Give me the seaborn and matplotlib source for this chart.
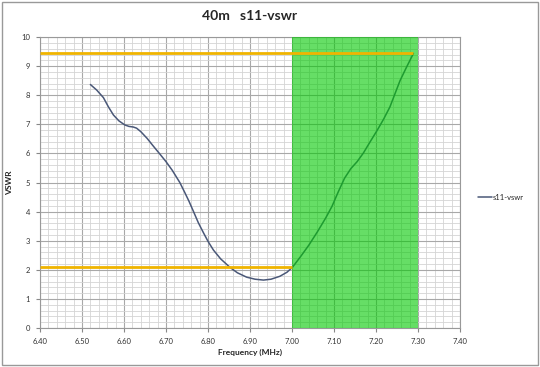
import numpy as np
import pandas as pd
import matplotlib
matplotlib.use('Agg')
import matplotlib.pyplot as plt
import seaborn as sns
from matplotlib.ticker import MultipleLocator

# values
freq = [6.520, 6.535, 6.551, 6.563, 6.575, 6.588, 6.602, 6.612, 6.622, 6.630,
        6.640, 6.655, 6.670, 6.686, 6.700, 6.715, 6.733, 6.745, 6.755, 6.765,
        6.777, 6.789, 6.800, 6.813, 6.830, 6.852, 6.870, 6.892, 6.912, 6.932,
        6.950, 6.971, 6.988, 7.001, 7.020, 7.040, 7.060, 7.080, 7.095, 7.110,
        7.125, 7.140, 7.155, 7.170, 7.185, 7.202, 7.218, 7.233, 7.245, 7.257,
        7.272, 7.289]
vswr = [8.37, 8.18, 7.92, 7.60, 7.32, 7.12, 6.98, 6.93, 6.91, 6.87,
        6.75, 6.52, 6.25, 5.97, 5.72, 5.42, 5.00, 4.65, 4.35, 4.02,
        3.62, 3.28, 2.98, 2.68, 2.38, 2.09, 1.90, 1.75, 1.68, 1.65,
        1.68, 1.78, 1.92, 2.09, 2.45, 2.85, 3.30, 3.78, 4.18, 4.68,
        5.15, 5.48, 5.72, 6.02, 6.38, 6.78, 7.18, 7.60, 8.05, 8.50,
        8.95, 9.44]
band = [7.00, 7.30]
lim_hi = 9.44
lim_lo = 2.09

df = pd.DataFrame({'Frequency (MHz)': freq, 'VSWR': vswr})

sns.set_style('white')
plt.rcParams['font.family'] = ['Lato', 'DejaVu Sans']

fig = plt.figure(figsize=(5.4, 3.67), dpi=100)
ax = fig.add_axes([0.074, 0.106, 0.778, 0.793])

sns.lineplot(data=df, x='Frequency (MHz)', y='VSWR', ax=ax, color='#4a5878',
             lw=1.1, label='s11-vswr', zorder=3, estimator=None, sort=False)

ax.set_xlim(6.40, 7.40)
ax.set_ylim(0, 10)
ax.xaxis.set_major_locator(MultipleLocator(0.1))
ax.xaxis.set_minor_locator(MultipleLocator(0.02))
ax.yaxis.set_major_locator(MultipleLocator(1))
ax.yaxis.set_minor_locator(MultipleLocator(0.2))
ax.grid(which='major', color='#a8a8a8', lw=0.8, zorder=0)
ax.grid(which='minor', color='#d4d4d4', lw=0.6, zorder=0)
ax.set_axisbelow(True)
ax.set_xticks(np.arange(6.40, 7.41, 0.1))
ax.set_xticklabels([f'{v:.2f}' for v in np.arange(6.40, 7.41, 0.1)])
ax.tick_params(axis='both', which='major', labelsize=5.5, length=3, color='#888888',
               labelcolor='#333333', direction='out', bottom=True, left=True, pad=4)
for s in ax.spines.values():
    s.set_color('#999999')
    s.set_linewidth(0.8)

# operating band, drawn over the grid and curve like the original
ax.axvspan(band[0], band[1], color='#00c800', alpha=0.6, lw=0, zorder=4)

# limit lines
ax.plot([6.40, freq[-1]], [lim_hi, lim_hi], color='#f0b400', lw=2, zorder=5,
        solid_capstyle='butt')
ax.plot([6.40, band[0]], [lim_lo, lim_lo], color='#f0b400', lw=2, zorder=5,
        solid_capstyle='butt')

ax.set_xlabel('Frequency (MHz)', fontsize=6, fontweight='bold', labelpad=3)
ax.set_ylabel('VSWR', fontsize=6, fontweight='bold', labelpad=6)
ax.set_title('40m   s11-vswr', fontsize=10, fontweight='bold', pad=12)

leg = ax.legend(loc='center left', bbox_to_anchor=(1.035, 0.45), frameon=False,
                fontsize=5.5, handlelength=1.8, handletextpad=0.2, borderaxespad=0)

fig.patches.append(plt.Rectangle((0.003, 0.005), 0.994, 0.99, transform=fig.transFigure,
                                 fill=False, edgecolor='#999999', lw=1))

fig.savefig('out.png', dpi=100)
